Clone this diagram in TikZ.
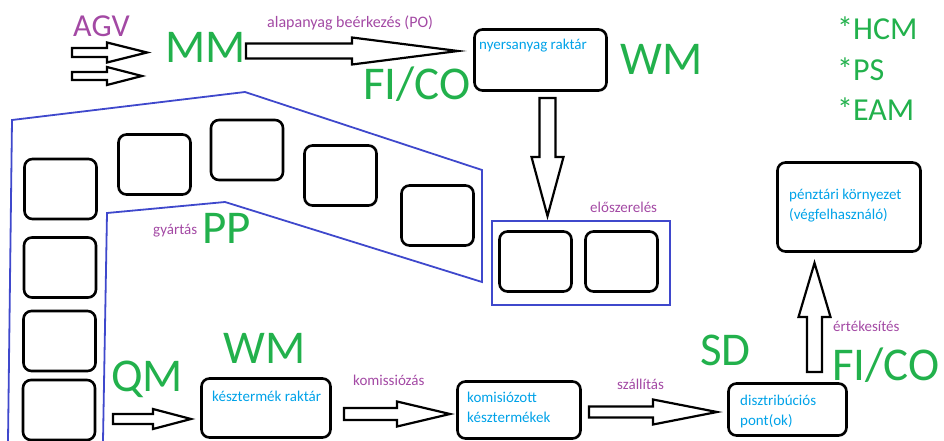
\documentclass[tikz,border=0pt]{standalone}
\usepackage{fontspec}
\setmainfont{Carlito}
\usepackage{tikz}
\usetikzlibrary{positioning}

\definecolor{sapgreen}{HTML}{22B14C}
\definecolor{stepviolet}{HTML}{A349A4}
\definecolor{boxblue}{HTML}{00A2E8}
\definecolor{areablue}{HTML}{3F48CC}

\tikzset{
  module/.style={text=sapgreen, inner sep=0pt, anchor=base west, font=\fontsize{47}{50}\selectfont},
  extra/.style={text=sapgreen, inner sep=0pt, anchor=base west, font=\fontsize{32}{40}\selectfont},
  step label/.style={text=stepviolet, inner sep=0pt, anchor=base west, font=\fontsize{15}{19}\selectfont},
  boxtext/.style={text=boxblue, inner sep=0pt, anchor=base west, align=left, font=\fontsize{15}{19.5}\selectfont},
  box/.style={draw, line width=2.6pt, rounded corners=8pt, inner sep=0pt},
  cell/.style={box, minimum width=72pt, minimum height=60pt},
  fat/.style={draw, line width=2.2pt, fill=white, line join=miter},
  area/.style={draw=areablue, line width=1.8pt}
}

% block arrows: tail x, y, head base x, tip x, shaft half, head half
\newcommand{\harrow}[6]{\draw[fat] (#1,#2-#5) -- (#3,#2-#5) -- (#3,#2-#6) -- (#4,#2) -- (#3,#2+#6) -- (#3,#2+#5) -- (#1,#2+#5) -- cycle;}
% same, standing: x, tail y, head base y, tip y, shaft half, head half
\newcommand{\varrow}[6]{\draw[fat] (#1-#5,#2) -- (#1-#5,#3) -- (#1-#6,#3) -- (#1,#4) -- (#1+#6,#3) -- (#1+#5,#3) -- (#1+#5,#2) -- cycle;}

\begin{document}
\begin{tikzpicture}[x=1pt, y=-1pt]
\useasboundingbox (0,0) rectangle (944,441);

% production area
\draw[area] (8,441) -- (12,120) -- (245,92) -- (482,170) -- (482,282) -- (225,202) -- (107,213) -- (103,441);
\foreach \name/\cx/\cy in {c1/60.5/189, c2/60/267.5, c3/59.5/341, c4/59/410,
                           c5/154.5/164.5, c6/247/150, c7/340.5/175.5, c8/437.5/215.5}
  \node[cell] (\name) at (\cx,\cy) {};
\node[step label] (gyartas) at (153,234) {gyártás};
\node[module] (pp) at (202,243) {PP};

% inbound
\node[text=stepviolet, inner sep=0pt, anchor=base west, font=\fontsize{32}{40}\selectfont] (agv) at (73,37) {AGV};
\harrow{72}{52.5}{107}{147}{4.5}{10}
\harrow{72}{76}{107}{142}{4}{9}
\node[module] (mm) at (165,63) {MM};
\harrow{246}{51}{352}{458}{7.5}{13.5}
\node[step label, font=\fontsize{16}{19}\selectfont] (beerkezes) at (267,28) {alapanyag beérkezés (PO)};
\node[module] (fico1) at (363,100) {FI/CO};

\node[box, minimum width=132pt, minimum height=61pt] (raw) at (540.5,60) {};
\node[boxtext] (rawtext) at (479,50) {nyersanyag raktár};
\node[module] (wm1) at (620,75) {WM};

\node[extra] (hcm) at (837,40) {*HCM};
\node[extra] (ps) at (837,81) {*PS};
\node[extra] (eam) at (837,121) {*EAM};

% pre-assembly
\varrow{547.5}{98}{157}{216}{8}{16}
\draw[area] (492,221) rectangle (670,305); %
\node[cell] (pre1) at (535.5,261.5) {};
\node[cell] (pre2) at (621.5,261.5) {};
\node[step label] (eloszereles) at (590,212) {előszerelés};

% outbound
\node[module] (qm) at (111,391) {QM};
\harrow{113}{419}{153}{191}{5}{10}
\node[box, minimum width=129pt, minimum height=59pt] (fg) at (266,408) {};
\node[boxtext] (fgtext) at (212,401) {késztermék raktár};
\node[module] (wm2) at (223,363) {WM};

\harrow{344}{414}{397}{450}{6}{12.5}
\node[step label] (komissiozas) at (353,385) {komissiózás};
\node[box, minimum width=123pt, minimum height=57pt] (picked) at (519,410) {};
\node[boxtext] (pickedtext) at (467,422) {komisiózott\\késztermékek};

\harrow{589}{412}{653}{717}{5.5}{12.5}
\node[step label] (szallitas) at (617,389) {szállítás};
\node[box, minimum width=118pt, minimum height=52pt] (dist) at (787.5,409.5) {};
\node[boxtext] (disttext) at (740,425) {disztribúciós\\pont(ok)};
\node[module] (sd) at (700,365) {SD};

% sales
\varrow{814.5}{372}{317}{263}{7.5}{16}
\node[step label] (ertekesites) at (833,331) {értékesítés};
\node[module] (fico2) at (832,380) {FI/CO};
\node[box, minimum width=143pt, minimum height=89pt] (cash) at (849,207) {};
\node[boxtext] (cashtext) at (789,219) {pénztári környezet\\(végfelhasználó)};
\end{tikzpicture}
\end{document}
